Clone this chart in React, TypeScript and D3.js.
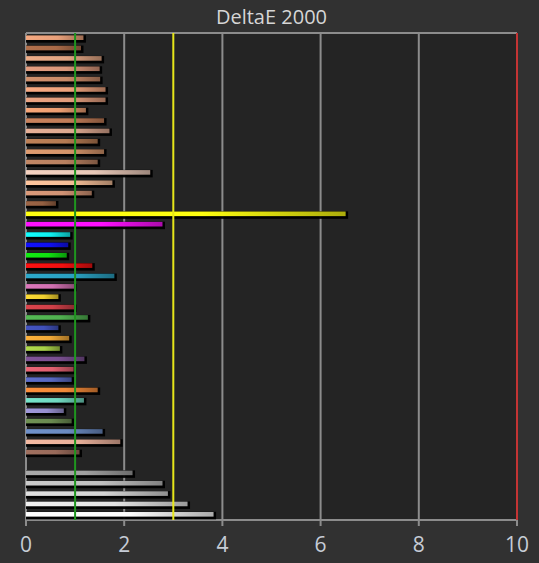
import React from "react";
import * as d3 from "d3";

const W = 539;
const H = 563;

const titleText = "DeltaE 2000";
const xTicks = [0, 2, 4, 6, 8, 10];
const refLines = [
  { value: 1, color: "#1f951f" },
  { value: 3, color: "#e6e61a" },
  { value: 10, color: "#c43434" },
];

// patch names (rows top to bottom), null = empty slot
const patches: (string | null)[] = [
  "s1", "s2", "s3", "s4", "s5", "s6", "s7", "s8", "s9", "s10", "s11", "s12", "s13", "s14", "s15", "s16", "s17",
  "yellow", "magenta", "cyan", "blue", "green", "red",
  "cc cyan", "cc magenta", "cc yellow", "cc red", "cc green", "cc blue",
  "orange yellow", "yellow green", "purple", "moderate red", "purplish blue", "orange",
  "bluish green", "blue flower", "foliage", "blue sky", "light skin", "dark skin",
  null,
  "gray 1", "gray 2", "gray 3", "gray 4", "white",
];

const values: (number | null)[] = [
  1.17, 1.12, 1.54, 1.5, 1.51, 1.62, 1.62, 1.22, 1.59, 1.7, 1.46, 1.59, 1.46, 2.53, 1.76, 1.34, 0.61,
  6.51, 2.78, 0.9, 0.86, 0.83, 1.35,
  1.8, 0.98, 0.66, 0.98, 1.26, 0.66,
  0.88, 0.69, 1.19, 0.97, 0.93, 1.46,
  1.18, 0.77, 0.93, 1.56, 1.92, 1.09,
  null,
  2.17, 2.78, 2.89, 3.29, 3.82,
];

const colors: (string | null)[] = [
  "#e8a07a", "#a86a48", "#e0a482", "#d8967a", "#c88a68", "#eca27c", "#e09c7c", "#ec9e72", "#c07c58", "#dca890",
  "#b47a52", "#d4946a", "#b88060", "#e8c8b8", "#f2bc96", "#d09274", "#946042",
  "#ffff10", "#ff10ff", "#10f0f0", "#1010f0", "#10e010", "#f01010",
  "#2aa0c0", "#d070b0", "#f0d030", "#d04048", "#50b050", "#4050b8",
  "#f0a838", "#a8d048", "#7a5090", "#e06070", "#5868c0", "#f08838",
  "#70d8c0", "#9890d0", "#6a8a50", "#6a8ac0", "#e8b09a", "#986a5a",
  null,
  "#a0a0a0", "#c0c0c0", "#d4d4d4", "#e4e4e4", "#ffffff",
];

const margin = { left: 26, right: 22, top: 33, bottom: 43 };

export default function App() {
  const x = d3
    .scaleLinear()
    .domain([0, 10])
    .range([margin.left, W - margin.right]);
  const y = d3
    .scaleBand<number>()
    .domain(d3.range(patches.length))
    .range([margin.top, H - margin.bottom])
    .padding(0);

  const x0 = x(0);
  const top = margin.top;
  const bottom = H - margin.bottom;
  const bw = y.bandwidth();

  return (
    <svg
      width={W}
      height={H}
      style={{ position: "absolute", left: 0, top: 0, display: "block" }}
      fontFamily="'Open Sans', 'Noto Sans', sans-serif"
    >
      <defs>
        {colors.map((c, i) =>
          c ? (
            <linearGradient key={i} id={`g${i}`} x1="0" x2="1" y1="0" y2="0">
              <stop offset="0%" stopColor={d3.color(c)!.brighter(0.15).formatHex()} />
              <stop offset="55%" stopColor={c} />
              <stop offset="100%" stopColor={d3.color(c)!.darker(1.1).formatHex()} />
            </linearGradient>
          ) : null
        )}
      </defs>
      <rect x={0} y={0} width={W} height={H} fill="#313131" />
      <rect x={x0} y={top} width={x(10) - x0} height={bottom - top} fill="#242424" />
      <text
        x={x(5)}
        y={19}
        textAnchor="middle"
        dominantBaseline="middle"
        fill="#d6d6d6"
        fontSize={20}
      >
        {titleText}
      </text>
      {/* grid */}
      {xTicks
        .filter((t) => t > 0 && t < 10)
        .map((t) => (
          <line key={t} x1={x(t)} x2={x(t)} y1={top} y2={bottom} stroke="#8c8c8c" strokeWidth={2} />
        ))}
      {/* frame */}
      <line x1={x0} x2={x(10)} y1={top} y2={top} stroke="#8c8c8c" strokeWidth={2} />
      <line x1={x0} x2={x(10)} y1={bottom} y2={bottom} stroke="#8c8c8c" strokeWidth={2} />
      <line x1={x0} x2={x0} y1={top} y2={bottom + 6} stroke="#8c8c8c" strokeWidth={2} />
      {xTicks.map((t) => (
        <line key={t} x1={x(t)} x2={x(t)} y1={bottom} y2={bottom + 6} stroke="#8c8c8c" strokeWidth={2} />
      ))}
      {/* bars */}
      {values.map((v, i) => {
        if (v == null || colors[i] == null) return null;
        const c = y(i)! + bw / 2;
        const w = x(v) - x0;
        return (
          <g key={i}>
            <rect x={x0} y={c - 3} width={w + 2.5} height={7.5} fill="#000" opacity={0.95} />
            <rect x={x0} y={c - 2.8} width={w} height={4.6} fill={`url(#g${i})`} />
          </g>
        );
      })}
      {/* reference lines */}
      {refLines.map((r) => (
        <line
          key={r.value}
          x1={x(r.value)}
          x2={x(r.value)}
          y1={top}
          y2={bottom}
          stroke={r.color}
          strokeWidth={2}
        />
      ))}
      {/* tick labels */}
      {xTicks.map((t) => (
        <text
          key={t}
          x={x(t)}
          y={546}
          textAnchor="middle"
          dominantBaseline="middle"
          fill="#c6ccd6"
          fontSize={21}
        >
          {t}
        </text>
      ))}
    </svg>
  );
}
